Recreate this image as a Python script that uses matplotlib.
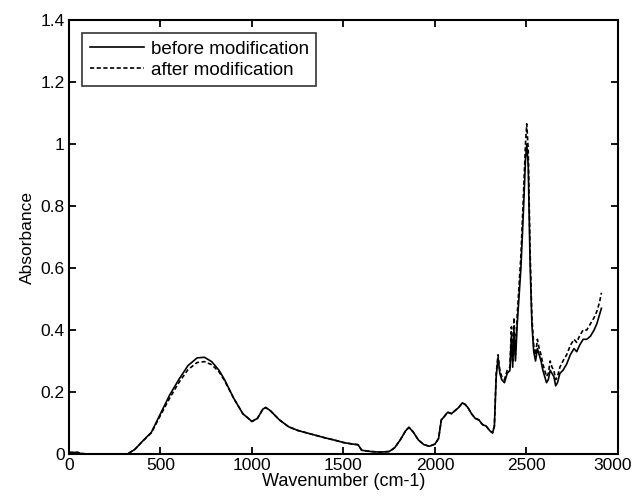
import numpy as np
import matplotlib.pyplot as plt
import matplotlib.transforms as mtransforms

plt.rcParams['font.family'] = ['Liberation Sans', 'DejaVu Sans']

# spectrum before modification (wavenumber, absorbance)
wn_before = [0, 20, 50, 60, 100, 200, 320, 360, 400, 450, 500, 550, 600, 650,
             700, 740, 780, 820, 850, 900, 950, 1000, 1030, 1060, 1075, 1100,
             1150, 1200, 1250, 1300, 1350, 1400, 1450, 1500, 1550, 1580, 1600,
             1650, 1700, 1750, 1780, 1810, 1840, 1858, 1880, 1910, 1940, 1970,
             2000, 2020, 2035, 2050, 2070, 2090, 2110, 2130, 2150, 2165, 2180,
             2200, 2220, 2240, 2260, 2280, 2300, 2315, 2325, 2335, 2345, 2355,
             2365, 2380, 2395, 2410, 2418, 2425, 2432, 2440, 2450, 2470, 2485,
             2495, 2502, 2510, 2520, 2530, 2540, 2550, 2560, 2570, 2580, 2590,
             2600, 2610, 2620, 2630, 2640, 2650, 2660, 2670, 2683, 2700, 2720,
             2740, 2760, 2775, 2790, 2810, 2830, 2850, 2870, 2885, 2900, 2910]
abs_before = [0.005, 0.005, 0.005, 0.002, 0.0, 0.0, 0.0, 0.015, 0.04, 0.07,
              0.13, 0.19, 0.24, 0.285, 0.31, 0.312, 0.298, 0.27, 0.24, 0.18,
              0.13, 0.105, 0.115, 0.145, 0.15, 0.14, 0.11, 0.088, 0.076, 0.068,
              0.06, 0.052, 0.045, 0.037, 0.032, 0.03, 0.012, 0.008, 0.006,
              0.008, 0.02, 0.045, 0.075, 0.086, 0.072, 0.045, 0.03, 0.025,
              0.032, 0.05, 0.11, 0.12, 0.135, 0.13, 0.14, 0.15, 0.165, 0.16,
              0.15, 0.13, 0.115, 0.11, 0.095, 0.09, 0.075, 0.068, 0.09, 0.25,
              0.31, 0.26, 0.24, 0.23, 0.26, 0.27, 0.38, 0.28, 0.4, 0.3, 0.42,
              0.6, 0.8, 0.95, 1.0, 0.93, 0.62, 0.42, 0.33, 0.3, 0.34, 0.32,
              0.3, 0.27, 0.25, 0.23, 0.24, 0.27, 0.26, 0.25, 0.22, 0.23, 0.26,
              0.27, 0.29, 0.32, 0.34, 0.33, 0.35, 0.37, 0.37, 0.38, 0.4, 0.42,
              0.45, 0.47]

# spectrum after modification
wn_after = [0, 20, 50, 60, 100, 200, 320, 360, 400, 450, 500, 550, 600, 650,
            700, 740, 780, 820, 850, 900, 950, 1000, 1030, 1060, 1075, 1100,
            1150, 1200, 1250, 1300, 1350, 1400, 1450, 1500, 1550, 1580, 1600,
            1650, 1700, 1750, 1780, 1810, 1840, 1858, 1880, 1910, 1940, 1970,
            2000, 2020, 2035, 2050, 2070, 2090, 2110, 2130, 2150, 2165, 2180,
            2200, 2220, 2240, 2260, 2280, 2300, 2315, 2325, 2335, 2345, 2355,
            2365, 2380, 2395, 2410, 2418, 2425, 2432, 2440, 2450, 2470, 2485,
            2495, 2502, 2510, 2520, 2530, 2540, 2550, 2560, 2570, 2580, 2590,
            2600, 2610, 2620, 2630, 2640, 2650, 2660, 2670, 2683, 2700, 2720,
            2740, 2760, 2775, 2790, 2810, 2830, 2850, 2870, 2885, 2900, 2910]
abs_after = [0.005, 0.005, 0.005, 0.002, 0.0, 0.0, 0.0, 0.015, 0.04, 0.068,
             0.125, 0.18, 0.23, 0.272, 0.295, 0.298, 0.288, 0.265, 0.237, 0.18,
             0.13, 0.105, 0.115, 0.145, 0.15, 0.14, 0.11, 0.088, 0.076, 0.068,
             0.06, 0.052, 0.045, 0.037, 0.032, 0.03, 0.012, 0.008, 0.006,
             0.008, 0.02, 0.045, 0.075, 0.086, 0.072, 0.045, 0.03, 0.025,
             0.032, 0.05, 0.11, 0.12, 0.135, 0.13, 0.14, 0.15, 0.165, 0.16,
             0.15, 0.13, 0.115, 0.11, 0.095, 0.09, 0.075, 0.068, 0.09, 0.26,
             0.32, 0.27, 0.25, 0.24, 0.27, 0.28, 0.41, 0.3, 0.44, 0.32, 0.45,
             0.64, 0.85, 1.0, 1.065, 0.98, 0.66, 0.44, 0.35, 0.32, 0.37, 0.34,
             0.32, 0.29, 0.27, 0.25, 0.26, 0.3, 0.28, 0.27, 0.24, 0.25, 0.28,
             0.3, 0.32, 0.35, 0.37, 0.36, 0.38, 0.4, 0.4, 0.42, 0.44, 0.46,
             0.49, 0.52]

fig = plt.figure(figsize=(6.36, 5.0), dpi=100)
ax = fig.add_axes([0.1085, 0.092, 0.863, 0.868])

ax.plot(wn_before, abs_before, color='black', lw=1.2, label='before modification')
ax.plot(wn_after, abs_after, color='black', lw=1.2, linestyle=(0, (2.5, 1.5)),
        label='after modification')

ax.set_xlim(0, 3000)
ax.set_ylim(0, 1.4)
ax.set_xticks(np.arange(0, 3001, 500))
ax.set_yticks(np.arange(0, 1.41, 0.2))
ax.set_yticklabels(['0', '0.2', '0.4', '0.6', '0.8', '1', '1.2', '1.4'])
ax.tick_params(direction='in', top=True, right=True, labelsize=12.5, length=5,
               width=1.3, pad=3)
for s in ax.spines.values():
    s.set_linewidth(1.5)

# nudge the last x label inward so it stays inside the figure
last = ax.get_xticklabels()[-1]
last.set_transform(last.get_transform() +
                   mtransforms.ScaledTranslation(-4 / 72, 0, fig.dpi_scale_trans))

ax.set_xlabel('Wavenumber (cm-1)', fontsize=13, labelpad=0)
ax.set_ylabel('Absorbance', fontsize=12.5, labelpad=4)

leg = ax.legend(loc='upper left', fontsize=13.5, frameon=True, fancybox=False,
                edgecolor='black', handlelength=2.9, borderpad=0.4,
                labelspacing=0.2, handletextpad=0.35, borderaxespad=0.7)
leg.get_frame().set_linewidth(1.2)

fig.savefig('out.png', dpi=100)
